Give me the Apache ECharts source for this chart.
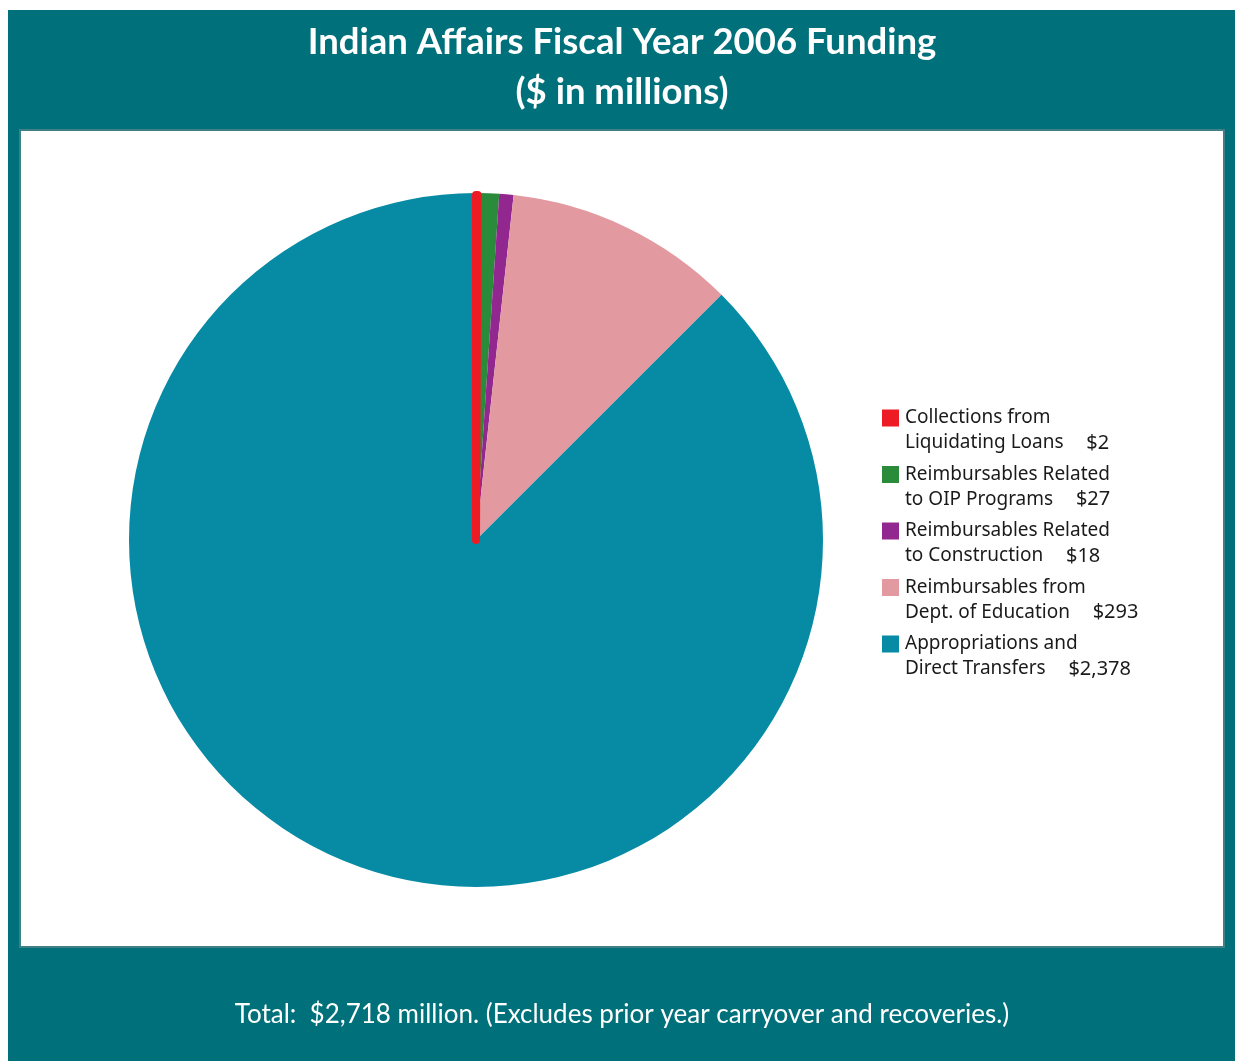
<!DOCTYPE html>
<html>
<head>
<meta charset="utf-8">
<script src="https://cdn.jsdelivr.net/npm/echarts@6/dist/echarts.min.js"></script>
<style>
html,body{margin:0;padding:0;background:#fff;}
#c{width:1235px;height:1061px;}
</style>
</head>
<body>
<div id="c"></div>
<script>
// Data
const categories = [
  "Collections from\nLiquidating Loans",
  "Reimbursables Related\nto OIP Programs",
  "Reimbursables Related\nto Construction",
  "Reimbursables from\nDept. of Education",
  "Appropriations and\nDirect Transfers"
];
const valueLabels = ["$2", "$27", "$18", "$293", "$2,378"];
const values = [2, 27, 18, 293, 2378];
const colors = ["#ed1c24", "#2a8b3b", "#92278f", "#e29aa0", "#078ba4"];
const titleText = "Indian Affairs Fiscal Year 2006 Funding\n($ in millions)";
const footerText = "Total:  $2,718 million. (Excludes prior year carryover and recoveries.)";

const chart = echarts.init(document.getElementById('c'));
const pieData = categories.map((n, i) => ({
  name: n, value: values[i],
  itemStyle: { color: colors[i] }
}));
const overlayData = categories.map((n, i) => ({
  name: n, value: values[i],
  itemStyle: i === 0
    ? { color: colors[0], borderColor: colors[0], borderWidth: 8 }
    : { color: 'rgba(0,0,0,0)', borderWidth: 0 }
}));

const legendTops = [0, 1, 2, 3, 4].map(i => 421 + i * 56.5 - 37.5);
const legends = categories.map((n, i) => ({
  data: [n],
  orient: 'vertical',
  left: 882,
  top: legendTops[i],
  padding: 0,
  itemWidth: 17,
  itemHeight: 17,
  itemGap: 0,
  icon: 'rect',
  selectedMode: false,
  formatter: name => {
    const parts = name.split('\n');
    return '{t| }\n{t|' + parts[0] + '}\n{t|' + parts[1] + '    }{v|' + valueLabels[categories.indexOf(name)] + '}';
  },
  textStyle: {
    padding: [0,0,0,1],
    rich: {
      t: { fontFamily: 'Noto Sans', fontSize: 19, lineHeight: 25, color: '#1a1a1a' },
      v: { fontFamily: 'Noto Sans', fontSize: 20, lineHeight: 25, color: '#1a1a1a', padding: [0,0,0,3] }
    }
  }
}));

chart.setOption({
  animation: false,
  backgroundColor: '#ffffff',
  graphic: [
    { type: 'rect', shape: { x: 8, y: 10, width: 1227, height: 1051 }, style: { fill: '#00707a' }, z: -10 },
    { type: 'rect', shape: { x: 20, y: 130, width: 1204, height: 817 }, style: { fill: '#ffffff', stroke: '#3f7f85', lineWidth: 2 }, z: -9 },
    { type: 'text', x: 622, y: 1015, style: { text: footerText, fill: '#ffffff', font: '400 26px Lato', align: 'center', verticalAlign: 'middle' } }
  ],
  title: {
    text: titleText,
    left: 617,
    top: 12,
    textAlign: 'center',
    textStyle: { color: '#ffffff', fontFamily: 'Lato', fontWeight: 'bold', fontSize: 36.5, lineHeight: 50 }
  },
  legend: legends,
  series: [
    {
      type: 'pie',
      center: [476, 540],
      radius: 347,
      startAngle: 90,
      clockwise: true,
      label: { show: false },
      labelLine: { show: false },
      silent: true,
      itemStyle: { borderWidth: 0 },
      data: pieData
    },
    {
      type: 'pie',
      center: [476, 540],
      radius: 345,
      startAngle: 90,
      clockwise: true,
      z: 5,
      label: { show: false },
      labelLine: { show: false },
      silent: true,
      legendHoverLink: false,
      data: overlayData
    }
  ]
});
</script>
</body>
</html>
